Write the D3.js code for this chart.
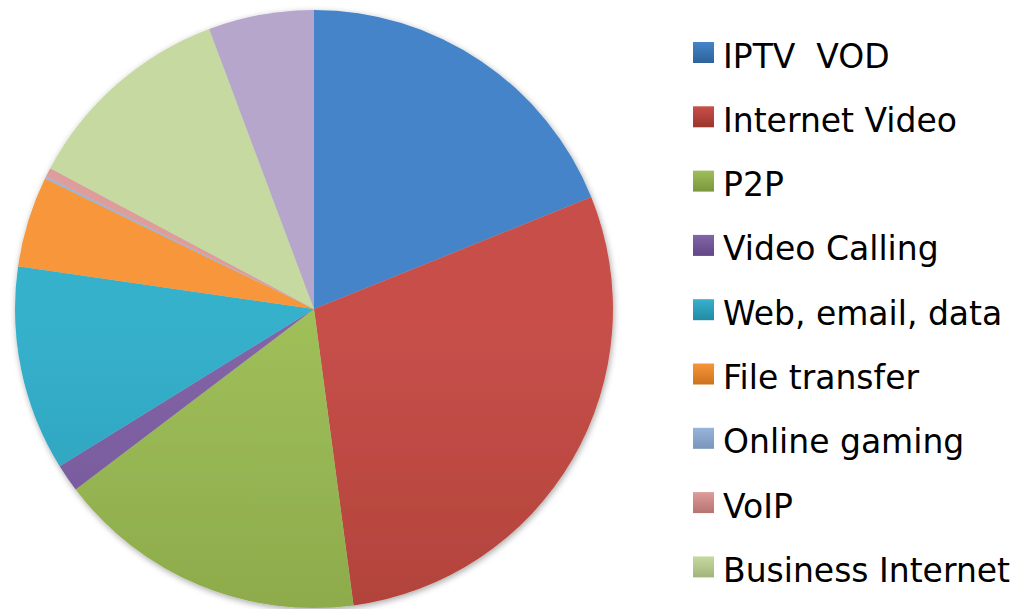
<!DOCTYPE html>
<html>
<head>
<meta charset="utf-8">
<script src="https://cdn.jsdelivr.net/npm/d3@7"></script>
<style>
  html, body { margin: 0; padding: 0; background: #fff; }
  svg { display: block; }
</style>
</head>
<body>
<svg width="1014" height="609"></svg>
<script>
// the data (share of traffic, %)
var categories = ['IPTV  VOD', 'Internet Video', 'P2P', 'Video Calling', 'Web, email, data',
  'File transfer', 'Online gaming', 'VoIP', 'Business Internet', 'Mobile data'];
var shares = [18.9, 29.0, 16.8, 1.5, 11.1, 4.9, 0.12, 0.5, 11.5, 5.7];
// the legend runs off the bottom of the slide: only these entries are visible
var legendCount = 9;
// top / bottom colours of each slice gradient
var topColors = ['#4584c8', '#c8504a', '#9fbf5a', '#8465a8', '#36b1cc', '#f7963a', '#96b5dc', '#de9c9a', '#c6d9a0', '#b6a6cb'];
var bottomColors = ['#2c649a', '#9a352d', '#7a963b', '#5f4784', '#228aa4', '#cc721e', '#7b95b9', '#b77370', '#a0b57d', '#9282a8'];

var svg = d3.select('svg'),
  width = +svg.attr('width'),
  height = +svg.attr('height');

var cx = 314, cy = 309, radius = 299;

var defs = svg.append('defs');

// soft shadow round the pie
var shadow = defs.append('filter').attr('id', 'shadow')
  .attr('x', '-10%').attr('y', '-10%').attr('width', '120%').attr('height', '120%');
shadow.append('feDropShadow')
  .attr('dx', 1).attr('dy', 2).attr('stdDeviation', 3)
  .attr('flood-color', '#000').attr('flood-opacity', 0.35);

// one vertical gradient per slice over the whole pie
categories.forEach(function (c, i) {
  var g = defs.append('linearGradient').attr('id', 'grad' + i)
    .attr('gradientUnits', 'userSpaceOnUse')
    .attr('x1', 0).attr('x2', 0)
    .attr('y1', cy - radius).attr('y2', cy + radius);
  g.append('stop').attr('offset', '0%').attr('stop-color', topColors[i]);
  g.append('stop').attr('offset', '100%').attr('stop-color', bottomColors[i]);

  var lg = defs.append('linearGradient').attr('id', 'lgrad' + i)
    .attr('x1', 0).attr('x2', 0).attr('y1', 0).attr('y2', 1);
  lg.append('stop').attr('offset', '0%').attr('stop-color', topColors[i]);
  lg.append('stop').attr('offset', '100%').attr('stop-color', bottomColors[i]);
});

var pie = d3.pie().sort(null).value(function (d) { return d; });
var arc = d3.arc().innerRadius(0).outerRadius(radius);

var pieG = svg.append('g')
  .attr('transform', 'translate(' + cx + ',' + cy + ')')
  .attr('filter', 'url(#shadow)');

pieG.selectAll('path')
  .data(pie(shares))
  .enter()
  .append('path')
  .attr('d', arc)
  .attr('fill', function (d, i) { return 'url(#grad' + i + ')'; });

//////////// LEGEND ////////////
var legendY = d3.scalePoint()
  .domain(d3.range(legendCount))
  .range([52.5, 52.5 + 64.3 * (legendCount - 1)]);

var item = svg.append('g')
  .selectAll('g')
  .data(categories.slice(0, legendCount))
  .enter()
  .append('g')
  .attr('transform', function (d, i) { return 'translate(693,' + legendY(i) + ')'; });

item.append('rect')
  .attr('x', 0).attr('y', -10.5)
  .attr('width', 21).attr('height', 21)
  .attr('fill', function (d, i) { return 'url(#lgrad' + i + ')'; });

item.append('text')
  .attr('x', 30)
  .attr('y', 15)
  .style('font-family', '"DejaVu Sans", sans-serif')
  .style('font-size', '33px')
  .style('fill', '#000')
  .style('white-space', 'pre')
  .text(function (d) { return d; });
</script>
</body>
</html>
